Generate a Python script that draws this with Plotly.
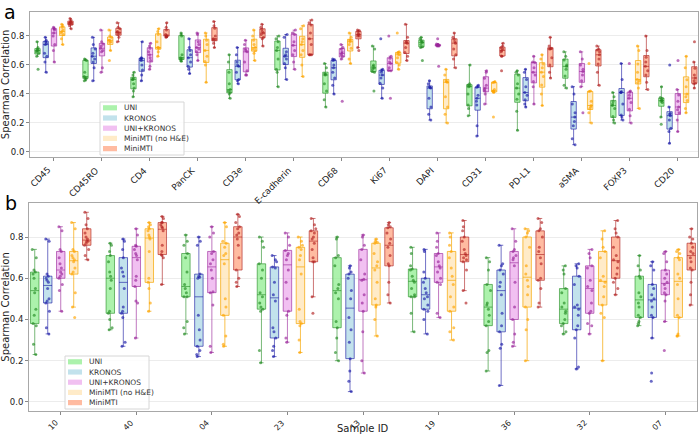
import plotly.graph_objects as go

# ---------------- data ----------------
series = ["UNI", "KRONOS", "UNI+KRONOS", "MiniMTI (no H&E)", "MiniMTI"]
markers = ["CD45", "CD45RO", "CD4", "PanCK", "CD3e", "E-cadherin", "CD68", "Ki67",
           "DAPI", "CD31", "PD-L1", "aSMA", "FOXP3", "CD20"]
samples = ["10", "40", "04", "23", "13", "19", "36", "32", "07"]

# panel a: per marker, one value per sample
a_uni = [
    [0.57, 0.66, 0.68, 0.69, 0.70, 0.70, 0.71, 0.72, 0.76],
    [0.49, 0.50, 0.51, 0.51, 0.52, 0.55, 0.63, 0.635, 0.64],
    [0.38, 0.42, 0.44, 0.47, 0.50, 0.50, 0.51, 0.53, 0.55],
    [0.625, 0.63, 0.64, 0.645, 0.65, 0.67, 0.80, 0.81, 0.82],
    [0.37, 0.40, 0.41, 0.42, 0.43, 0.47, 0.55, 0.62, 0.67],
    [0.45, 0.55, 0.57, 0.64, 0.70, 0.72, 0.76, 0.78, 0.80],
    [0.31, 0.36, 0.42, 0.47, 0.53, 0.535, 0.54, 0.58, 0.61],
    [0.42, 0.55, 0.555, 0.57, 0.58, 0.59, 0.60, 0.71, 0.73],
    [0.63, 0.72, 0.726, 0.74, 0.755, 0.76, 0.768, 0.78, 0.79],
    [0.25, 0.30, 0.324, 0.40, 0.45, 0.455, 0.462, 0.47, 0.60],
    [0.15, 0.28, 0.363, 0.40, 0.44, 0.47, 0.531, 0.55, 0.56],
    [0.44, 0.46, 0.524, 0.57, 0.59, 0.60, 0.634, 0.66, 0.69],
    [0.20, 0.22, 0.244, 0.30, 0.32, 0.33, 0.347, 0.38, 0.41],
    [0.19, 0.24, 0.34, 0.35, 0.355, 0.36, 0.37, 0.375, 0.45],
]
a_kronos = [
    [0.55, 0.62, 0.66, 0.68, 0.74, 0.75, 0.76, 0.77, 0.79],
    [0.49, 0.58, 0.62, 0.64, 0.66, 0.68, 0.71, 0.74, 0.79],
    [0.49, 0.53, 0.565, 0.60, 0.63, 0.64, 0.645, 0.65, 0.76],
    [0.54, 0.57, 0.59, 0.62, 0.65, 0.67, 0.70, 0.72, 0.78],
    [0.47, 0.49, 0.50, 0.55, 0.59, 0.60, 0.62, 0.67, 0.72],
    [0.50, 0.58, 0.61, 0.64, 0.66, 0.67, 0.69, 0.79, 0.81],
    [0.40, 0.46, 0.51, 0.55, 0.58, 0.60, 0.63, 0.635, 0.64],
    [0.37, 0.44, 0.474, 0.51, 0.53, 0.55, 0.561, 0.57, 0.78],
    [0.22, 0.26, 0.31, 0.37, 0.44, 0.445, 0.45, 0.47, 0.49],
    [0.11, 0.18, 0.324, 0.35, 0.37, 0.39, 0.446, 0.45, 0.46],
    [0.31, 0.33, 0.36, 0.39, 0.41, 0.45, 0.50, 0.55, 0.57],
    [0.05, 0.09, 0.18, 0.21, 0.24, 0.27, 0.33, 0.40, 0.45],
    [0.22, 0.24, 0.255, 0.33, 0.41, 0.41, 0.416, 0.50, 0.61],
    [0.06, 0.14, 0.163, 0.22, 0.25, 0.26, 0.267, 0.31, 0.60],
]
a_unikronos = [
    [0.62, 0.70, 0.74, 0.80, 0.82, 0.84, 0.85, 0.85, 0.86],
    [0.55, 0.58, 0.69, 0.70, 0.715, 0.73, 0.745, 0.76, 0.84],
    [0.57, 0.59, 0.63, 0.65, 0.67, 0.69, 0.715, 0.73, 0.75],
    [0.63, 0.67, 0.69, 0.71, 0.72, 0.74, 0.76, 0.81, 0.82],
    [0.53, 0.53, 0.56, 0.62, 0.69, 0.70, 0.71, 0.74, 0.77],
    [0.57, 0.62, 0.67, 0.70, 0.735, 0.76, 0.81, 0.82, 0.84],
    [0.35, 0.64, 0.66, 0.67, 0.68, 0.69, 0.71, 0.72, 0.74],
    [0.37, 0.56, 0.561, 0.58, 0.61, 0.62, 0.646, 0.66, 0.80],
    [0.59, 0.73, 0.73, 0.735, 0.735, 0.74, 0.74, 0.745, 0.78],
    [0.33, 0.40, 0.42, 0.43, 0.44, 0.46, 0.508, 0.55, 0.56],
    [0.33, 0.45, 0.485, 0.53, 0.55, 0.58, 0.616, 0.62, 0.66],
    [0.27, 0.45, 0.49, 0.53, 0.555, 0.57, 0.60, 0.64, 0.69],
    [0.20, 0.25, 0.294, 0.34, 0.37, 0.39, 0.411, 0.42, 0.61],
    [0.14, 0.22, 0.271, 0.29, 0.31, 0.35, 0.393, 0.43, 0.63],
]
a_nohe = [
    [0.74, 0.78, 0.81, 0.82, 0.83, 0.84, 0.86, 0.87, 0.88],
    [0.63, 0.70, 0.755, 0.76, 0.77, 0.77, 0.79, 0.80, 0.84],
    [0.66, 0.69, 0.715, 0.72, 0.72, 0.76, 0.81, 0.83, 0.85],
    [0.48, 0.60, 0.623, 0.66, 0.70, 0.74, 0.77, 0.80, 0.82],
    [0.63, 0.68, 0.70, 0.71, 0.72, 0.74, 0.77, 0.80, 0.84],
    [0.52, 0.60, 0.67, 0.70, 0.74, 0.76, 0.78, 0.85, 0.87],
    [0.61, 0.64, 0.715, 0.74, 0.76, 0.77, 0.772, 0.79, 0.82],
    [0.57, 0.60, 0.616, 0.65, 0.67, 0.68, 0.685, 0.69, 0.82],
    [0.20, 0.26, 0.31, 0.38, 0.48, 0.485, 0.49, 0.53, 0.57],
    [0.24, 0.41, 0.416, 0.42, 0.42, 0.43, 0.478, 0.48, 0.485],
    [0.32, 0.40, 0.462, 0.52, 0.55, 0.58, 0.607, 0.64, 0.67],
    [0.20, 0.27, 0.30, 0.31, 0.32, 0.35, 0.416, 0.42, 0.61],
    [0.30, 0.44, 0.478, 0.49, 0.50, 0.55, 0.607, 0.70, 0.73],
    [0.27, 0.30, 0.354, 0.38, 0.40, 0.45, 0.497, 0.58, 0.66],
]
a_minimti = [
    [0.85, 0.87, 0.88, 0.885, 0.89, 0.895, 0.90, 0.91, 0.92],
    [0.76, 0.79, 0.81, 0.82, 0.825, 0.83, 0.85, 0.86, 0.89],
    [0.79, 0.795, 0.80, 0.80, 0.80, 0.81, 0.84, 0.86, 0.89],
    [0.72, 0.75, 0.772, 0.775, 0.78, 0.80, 0.853, 0.87, 0.90],
    [0.73, 0.78, 0.79, 0.81, 0.82, 0.83, 0.846, 0.86, 0.88],
    [0.67, 0.67, 0.67, 0.74, 0.78, 0.82, 0.876, 0.89, 0.91],
    [0.70, 0.72, 0.80, 0.80, 0.81, 0.815, 0.83, 0.835, 0.84],
    [0.63, 0.66, 0.685, 0.72, 0.75, 0.755, 0.761, 0.79, 0.88],
    [0.58, 0.64, 0.67, 0.71, 0.75, 0.76, 0.777, 0.79, 0.82],
    [0.56, 0.66, 0.662, 0.69, 0.70, 0.71, 0.72, 0.73, 0.75],
    [0.51, 0.55, 0.60, 0.65, 0.71, 0.712, 0.715, 0.73, 0.79],
    [0.46, 0.55, 0.607, 0.64, 0.67, 0.69, 0.703, 0.71, 0.73],
    [0.43, 0.48, 0.531, 0.56, 0.59, 0.62, 0.653, 0.70, 0.80],
    [0.44, 0.47, 0.474, 0.49, 0.51, 0.53, 0.577, 0.62, 0.76],
]

# panel b: per sample, one value per marker
b_uni = [
    [0.23, 0.28, 0.37, 0.38, 0.42, 0.45, 0.53, 0.55, 0.60, 0.62, 0.63, 0.64, 0.70, 0.74],
    [0.35, 0.36, 0.40, 0.43, 0.44, 0.55, 0.59, 0.61, 0.63, 0.68, 0.71, 0.73, 0.76, 0.77],
    [0.33, 0.36, 0.39, 0.51, 0.51, 0.53, 0.55, 0.57, 0.63, 0.70, 0.72, 0.76, 0.78, 0.81],
    [0.19, 0.25, 0.44, 0.45, 0.46, 0.48, 0.51, 0.53, 0.60, 0.64, 0.67, 0.75, 0.78, 0.80],
    [0.20, 0.24, 0.31, 0.36, 0.39, 0.50, 0.53, 0.55, 0.57, 0.66, 0.70, 0.71, 0.79, 0.80],
    [0.34, 0.43, 0.51, 0.51, 0.52, 0.55, 0.58, 0.59, 0.61, 0.64, 0.645, 0.66, 0.72, 0.75],
    [0.15, 0.24, 0.25, 0.37, 0.39, 0.42, 0.45, 0.47, 0.48, 0.54, 0.57, 0.64, 0.68, 0.70],
    [0.33, 0.34, 0.37, 0.38, 0.40, 0.43, 0.44, 0.46, 0.48, 0.53, 0.55, 0.62, 0.64, 0.66],
    [0.37, 0.38, 0.39, 0.41, 0.42, 0.46, 0.48, 0.51, 0.53, 0.60, 0.61, 0.64, 0.66, 0.71],
]
b_kronos = [
    [0.33, 0.36, 0.44, 0.48, 0.49, 0.50, 0.55, 0.58, 0.59, 0.60, 0.61, 0.62, 0.78, 0.79],
    [0.27, 0.29, 0.41, 0.43, 0.44, 0.46, 0.55, 0.61, 0.63, 0.65, 0.70, 0.74, 0.78, 0.79],
    [0.22, 0.23, 0.25, 0.27, 0.30, 0.35, 0.42, 0.60, 0.605, 0.61, 0.62, 0.76, 0.78, 0.80],
    [0.22, 0.25, 0.27, 0.31, 0.34, 0.36, 0.49, 0.52, 0.58, 0.65, 0.655, 0.68, 0.69, 0.71],
    [0.05, 0.10, 0.15, 0.21, 0.29, 0.35, 0.41, 0.50, 0.54, 0.60, 0.62, 0.63, 0.65, 0.66],
    [0.33, 0.40, 0.44, 0.45, 0.47, 0.50, 0.51, 0.53, 0.55, 0.58, 0.60, 0.63, 0.73, 0.74],
    [0.08, 0.26, 0.28, 0.34, 0.37, 0.43, 0.52, 0.56, 0.58, 0.62, 0.64, 0.66, 0.67, 0.76],
    [0.16, 0.17, 0.31, 0.35, 0.37, 0.42, 0.45, 0.46, 0.47, 0.57, 0.61, 0.65, 0.66, 0.67],
    [0.10, 0.14, 0.31, 0.41, 0.42, 0.46, 0.49, 0.50, 0.52, 0.55, 0.57, 0.64, 0.66, 0.68],
]
b_unikronos = [
    [0.44, 0.54, 0.57, 0.60, 0.61, 0.62, 0.63, 0.65, 0.67, 0.70, 0.73, 0.74, 0.83, 0.85],
    [0.31, 0.48, 0.49, 0.56, 0.59, 0.61, 0.69, 0.71, 0.72, 0.74, 0.755, 0.76, 0.81, 0.84],
    [0.24, 0.27, 0.47, 0.53, 0.535, 0.60, 0.64, 0.67, 0.69, 0.72, 0.73, 0.80, 0.82, 0.85],
    [0.29, 0.31, 0.42, 0.44, 0.50, 0.58, 0.64, 0.69, 0.71, 0.72, 0.735, 0.76, 0.80, 0.82],
    [0.14, 0.20, 0.34, 0.44, 0.48, 0.52, 0.59, 0.595, 0.62, 0.69, 0.74, 0.76, 0.80, 0.81],
    [0.41, 0.43, 0.57, 0.58, 0.60, 0.63, 0.65, 0.66, 0.68, 0.71, 0.72, 0.75, 0.78, 0.82],
    [0.27, 0.29, 0.33, 0.40, 0.46, 0.58, 0.66, 0.69, 0.70, 0.71, 0.73, 0.74, 0.78, 0.84],
    [0.33, 0.37, 0.38, 0.43, 0.44, 0.48, 0.54, 0.56, 0.59, 0.65, 0.66, 0.70, 0.72, 0.74],
    [0.25, 0.39, 0.49, 0.52, 0.53, 0.55, 0.57, 0.58, 0.60, 0.62, 0.64, 0.68, 0.72, 0.73],
]
b_nohe = [
    [0.41, 0.46, 0.53, 0.62, 0.63, 0.65, 0.68, 0.69, 0.70, 0.71, 0.73, 0.74, 0.84, 0.87],
    [0.44, 0.48, 0.55, 0.58, 0.60, 0.73, 0.79, 0.80, 0.81, 0.83, 0.84, 0.85, 0.86, 0.87],
    [0.27, 0.28, 0.32, 0.42, 0.46, 0.50, 0.67, 0.71, 0.72, 0.75, 0.77, 0.78, 0.85, 0.87],
    [0.24, 0.30, 0.37, 0.38, 0.39, 0.45, 0.62, 0.69, 0.71, 0.74, 0.75, 0.76, 0.78, 0.80],
    [0.32, 0.40, 0.46, 0.47, 0.50, 0.58, 0.64, 0.66, 0.68, 0.72, 0.77, 0.775, 0.78, 0.79],
    [0.30, 0.34, 0.36, 0.44, 0.46, 0.51, 0.57, 0.61, 0.65, 0.70, 0.73, 0.76, 0.80, 0.82],
    [0.20, 0.35, 0.40, 0.46, 0.52, 0.56, 0.59, 0.62, 0.66, 0.75, 0.80, 0.82, 0.83, 0.84],
    [0.20, 0.41, 0.43, 0.47, 0.51, 0.56, 0.58, 0.59, 0.61, 0.70, 0.73, 0.75, 0.79, 0.83],
    [0.32, 0.32, 0.33, 0.41, 0.42, 0.50, 0.57, 0.60, 0.62, 0.69, 0.70, 0.72, 0.73, 0.74],
]
b_minimti = [
    [0.69, 0.71, 0.74, 0.76, 0.77, 0.78, 0.78, 0.79, 0.80, 0.82, 0.84, 0.86, 0.89, 0.92],
    [0.57, 0.70, 0.71, 0.715, 0.73, 0.76, 0.83, 0.845, 0.85, 0.86, 0.87, 0.87, 0.89, 0.90],
    [0.56, 0.58, 0.60, 0.64, 0.70, 0.76, 0.79, 0.81, 0.82, 0.84, 0.85, 0.87, 0.90, 0.91],
    [0.43, 0.51, 0.68, 0.68, 0.70, 0.74, 0.77, 0.79, 0.80, 0.82, 0.83, 0.84, 0.86, 0.89],
    [0.48, 0.52, 0.58, 0.66, 0.67, 0.71, 0.75, 0.77, 0.79, 0.82, 0.845, 0.85, 0.86, 0.87],
    [0.48, 0.54, 0.64, 0.68, 0.69, 0.70, 0.71, 0.72, 0.74, 0.78, 0.80, 0.83, 0.85, 0.88],
    [0.46, 0.48, 0.55, 0.59, 0.60, 0.67, 0.70, 0.73, 0.75, 0.80, 0.83, 0.84, 0.87, 0.89],
    [0.52, 0.55, 0.58, 0.60, 0.62, 0.65, 0.68, 0.69, 0.71, 0.75, 0.80, 0.82, 0.84, 0.88],
    [0.47, 0.52, 0.58, 0.64, 0.65, 0.68, 0.70, 0.72, 0.73, 0.75, 0.77, 0.79, 0.80, 0.84],
]

y_ticks = [0.0, 0.2, 0.4, 0.6, 0.8]

# ---------------- styles ----------------
fills = ["rgba(144,238,144,0.75)", "rgba(173,216,230,0.75)", "rgba(230,140,230,0.55)",
         "rgba(255,228,181,0.75)", "rgba(255,150,110,0.65)"]
lines = ["rgba(34,139,34,0.6)", "rgba(20,20,160,0.6)", "rgba(150,30,150,0.6)",
         "rgba(245,165,0,0.7)", "rgba(170,25,25,0.6)"]
points = ["#228B22", "#1a1aa8", "#9a259a", "#FFA500", "#b22222"]
FONT = "DejaVu Sans"
W, H = 700, 441


def px(x):
    return x / W


def py(y):
    return 1 - y / H


fig = go.Figure()

panel_a = [a_uni, a_kronos, a_unikronos, a_nohe, a_minimti]
panel_b = [b_uni, b_kronos, b_unikronos, b_nohe, b_minimti]

for cats, panel, xa, ya in [(markers, panel_a, "x", "y"), (samples, panel_b, "x2", "y2")]:
    for si, name in enumerate(series):
        xs, ys = [], []
        for c, vals in zip(cats, panel[si]):
            xs += [c] * len(vals)
            ys += vals
        fig.add_trace(go.Box(
            x=xs, y=ys, name=name, xaxis=xa, yaxis=ya, offsetgroup=str(si),
            boxpoints="all", jitter=0.6, pointpos=0, whiskerwidth=0.5,
            fillcolor=fills[si], line=dict(color=lines[si], width=1),
            marker=dict(color=points[si], size=3, opacity=0.65),
            showlegend=False))

axis_common = dict(showline=True, mirror=True, linecolor="#a8a8a8", linewidth=1,
                   ticks="outside", ticklen=3, tickcolor="#888",
                   tickfont=dict(family=FONT, size=8.5, color="#222"))

fig.update_layout(
    width=W, height=H, margin=dict(l=0, r=0, t=0, b=0),
    paper_bgcolor="white", plot_bgcolor="white",
    boxmode="group", boxgap=0.14, boxgroupgap=0.35,
    font=dict(family=FONT, color="#222"),
    xaxis=dict(domain=[px(30), px(698)], anchor="y", type="category",
               categoryorder="array", categoryarray=markers,
               range=[-0.5, 13.42], showgrid=False, showticklabels=False, **axis_common),
    yaxis=dict(domain=[py(157), py(12)], anchor="x", range=[-0.035, 0.965],
               tickvals=y_ticks, tickformat=".1f", showgrid=True, gridcolor="#ececec",
               zeroline=False,
               title=dict(text="Spearman Correlation", font=dict(family=FONT, size=10), standoff=4),
               **axis_common),
    xaxis2=dict(domain=[px(29), px(697)], anchor="y2", type="category",
                categoryorder="array", categoryarray=samples,
                range=[-0.42, 8.42], showgrid=False, showticklabels=False,
                **axis_common),
    yaxis2=dict(domain=[py(411), py(203)], anchor="x2", range=[-0.044, 0.965],
                tickvals=y_ticks, tickformat=".1f", showgrid=True, gridcolor="#ececec",
                zeroline=False,
                title=dict(text="Spearman Correlation", font=dict(family=FONT, size=10), standoff=4),
                **axis_common),
)

# rotated category labels (45 degrees, right-aligned at the tick)
for i, m in enumerate(markers):
    fig.add_annotation(text=m, x=i, xref="x", y=py(164), yref="paper",
                       xanchor="right", yanchor="top", textangle=-45, showarrow=False,
                       borderpad=0, font=dict(family=FONT, size=8.8, color="#222"))
for i, s in enumerate(samples):
    fig.add_annotation(text=s, x=i, xref="x2", y=py(417), yref="paper",
                       xanchor="right", yanchor="top", textangle=-45, showarrow=False,
                       borderpad=0, font=dict(family=FONT, size=8, color="#222"))
fig.add_annotation(text="Sample ID", x=px(363), y=py(428), xref="paper", yref="paper",
                   xanchor="center", yanchor="middle", showarrow=False,
                   font=dict(family=FONT, size=10, color="#222"))

# panel letters
fig.add_annotation(text="a", x=px(3), y=py(0), xref="paper", yref="paper",
                   xanchor="left", yanchor="top", showarrow=False, borderpad=0,
                   font=dict(family=FONT, size=19, color="black"))
fig.add_annotation(text="b", x=px(3), y=py(189.5), xref="paper", yref="paper",
                   xanchor="left", yanchor="top", showarrow=False,
                   font=dict(family=FONT, size=19, color="black"))


# legends (drawn as boxes + text in paper space)
def add_legend(left, top):
    width, height, step = 84, 53, 10.2
    fig.add_shape(type="rect", xref="paper", yref="paper",
                  x0=px(left), x1=px(left + width), y0=py(top + height), y1=py(top),
                  fillcolor="rgba(255,255,255,0.85)", line=dict(color="#d6d6d6", width=1))
    for i, name in enumerate(series):
        yc = top + 5.8 + i * step
        fig.add_shape(type="rect", xref="paper", yref="paper",
                      x0=px(left + 3), x1=px(left + 17), y0=py(yc + 2.6), y1=py(yc - 2.6),
                      fillcolor=fills[i], line=dict(width=0))
        fig.add_annotation(text=name, x=px(left + 22), y=py(yc), xref="paper", yref="paper",
                           xanchor="left", yanchor="middle", showarrow=False,
                           font=dict(family=FONT, size=7.5, color="#333"))


add_legend(100, 102)
add_legend(65, 356)

fig.write_html("out.html")
